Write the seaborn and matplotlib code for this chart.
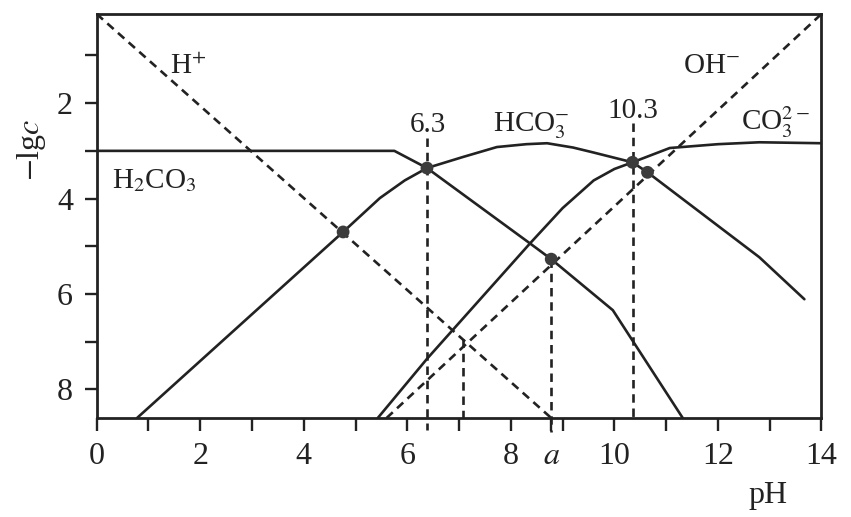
import matplotlib
matplotlib.use("Agg")
import matplotlib.pyplot as plt
import seaborn as sns

# ===============================================
# Data (pH, -lgc)
# ===============================================

ph_h2co3 = [0, 5.75, 6.38, 8.37, 8.78, 9.97, 11.32]
lgc_h2co3 = [3.0, 3.0, 3.36, 4.94, 5.27, 6.34, 8.6]

ph_hco3 = [0.78, 4.76, 5.47, 5.95, 6.38, 7.07, 7.73, 8.3, 8.7, 9.2, 9.58, 10.35, 10.64, 12.8, 13.67]
lgc_hco3 = [8.6, 4.70, 3.99, 3.62, 3.36, 3.13, 2.92, 2.86, 2.84, 2.93, 3.03, 3.24, 3.45, 5.23, 6.11]

ph_co3 = [5.43, 6.38, 8.37, 9.0, 9.6, 10.0, 10.35, 11.07, 12.0, 12.8, 14.0]
lgc_co3 = [8.6, 7.36, 4.94, 4.2, 3.62, 3.38, 3.24, 2.94, 2.86, 2.82, 2.84]

ph_h = [0, 8.78]
lgc_h = [0.13, 8.6]

ph_oh = [5.6, 14]
lgc_oh = [8.6, 0.13]

# intersection points
pts_ph = [4.76, 6.38, 8.78, 10.35, 10.64]
pts_lgc = [4.70, 3.36, 5.27, 3.24, 3.45]

# vertical guide lines
vline_ph = [6.38, 7.07, 8.78, 10.35]
vline_top = [2.74, 6.95, 5.27, 2.42]
vline_bottom = [8.85, 8.6, 8.9, 8.6]

x_ticks = list(range(0, 15)) + [8.78]
x_labels = [str(t) if t % 2 == 0 else "" for t in range(0, 15)] + ["$a$"]
y_ticks = list(range(1, 9))
y_labels = [str(t) if t % 2 == 0 else "" for t in y_ticks]

# ===============================================
# Plot
# ===============================================

sns.set_style("ticks")
plt.rcParams["font.family"] = ["Liberation Serif", "DejaVu Serif"]
plt.rcParams["mathtext.fontset"] = "stix"

ink = "#222222"
dash = (0, (3.2, 2.2))

fig = plt.figure(figsize=(8.51, 5.17), dpi=100)
ax = fig.add_axes([0.1136, 0.1915, 0.8517, 0.7815])

for xs, ys in [(ph_h2co3, lgc_h2co3), (ph_hco3, lgc_hco3), (ph_co3, lgc_co3)]:
    sns.lineplot(x=xs, y=ys, sort=False, estimator=None, color=ink, lw=1.9, ax=ax)

for xs, ys in [(ph_h, lgc_h), (ph_oh, lgc_oh)]:
    sns.lineplot(x=xs, y=ys, sort=False, estimator=None, color=ink, lw=1.9,
                 linestyle=dash, ax=ax)

ax.vlines(vline_ph, vline_top, vline_bottom, colors=ink, lw=1.9,
          linestyles=[dash], clip_on=False)

sns.scatterplot(x=pts_ph, y=pts_lgc, s=85, color="#3c3c3c", edgecolor="none",
                zorder=5, ax=ax)

ax.set_xlim(0, 14)
ax.set_ylim(8.6, 0.13)
ax.set_xticks(x_ticks)
ax.set_xticklabels(x_labels)
ax.set_yticks(y_ticks)
ax.set_yticklabels(y_labels)
ax.tick_params(direction="out", length=9, width=1.7, color=ink,
               labelsize=23, pad=8, labelcolor=ink)
for s in ax.spines.values():
    s.set_linewidth(2.0)
    s.set_color(ink)

# labels on the curves
fs = 21
ax.text(1.77, 1.25, "H$^{+}$", fontsize=fs, ha="center", va="center", color=ink)
ax.text(11.88, 1.22, "OH$^{-}$", fontsize=fs, ha="center", va="center", color=ink)
ax.text(6.4, 2.46, "6.3", fontsize=fs, ha="center", va="center", color=ink)
ax.text(8.39, 2.48, "HCO$_3^{-}$", fontsize=fs, ha="center", va="center", color=ink)
ax.text(10.35, 2.17, "10.3", fontsize=fs, ha="center", va="center", color=ink)
ax.text(13.1, 2.4, "CO$_3^{2-}$", fontsize=fs, ha="center", va="center", color=ink)
ax.text(1.11, 3.62, "H$_2$CO$_3$", fontsize=fs, ha="center", va="center", color=ink)

fig.text(0.0376, 0.71, "$-$lg$c$", fontsize=23, rotation=90,
         ha="center", va="center", color=ink)
fig.text(0.9025, 0.041, "pH", fontsize=23, ha="center", va="center", color=ink)

fig.savefig("out.png", dpi=100)
